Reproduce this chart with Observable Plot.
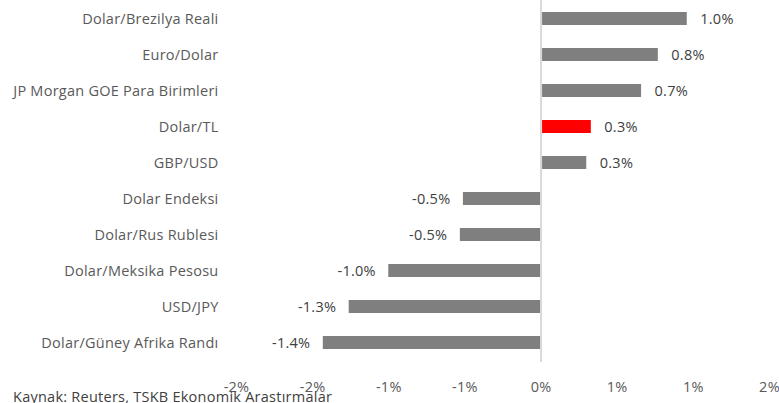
<!DOCTYPE html>
<html>
<head>
<meta charset="utf-8">
<script src="https://cdn.jsdelivr.net/npm/d3@7"></script>
<script src="https://cdn.jsdelivr.net/npm/@observablehq/plot@0.6"></script>
<style>
  html, body { margin: 0; padding: 0; background: #fff; }
  #wrap { position: relative; width: 779px; height: 403px; overflow: hidden; font-family: "Open Sans", sans-serif; }
  #caption { position: absolute; left: 13px; top: 389px; font-size: 14.5px; letter-spacing: 0.25px; line-height: 15px; color: #404040; white-space: nowrap; }
  #chart svg text { letter-spacing: 0.25px; }
</style>
</head>
<body>
<div id="wrap">
  <div id="chart"></div>
  <div id="caption">Kaynak: Reuters, TSKB Ekonomik Arastırmalar</div>
</div>
<script>
const categories = [
  "Dolar/Brezilya Reali",
  "Euro/Dolar",
  "JP Morgan GOE Para Birimleri",
  "Dolar/TL",
  "GBP/USD",
  "Dolar Endeksi",
  "Dolar/Rus Rublesi",
  "Dolar/Meksika Pesosu",
  "USD/JPY",
  "Dolar/Güney Afrika Randı"
];
const values = [0.96, 0.77, 0.66, 0.33, 0.30, -0.51, -0.53, -1.0, -1.26, -1.43];
const highlight = "Dolar/TL";
const xTicks = [-2, -1.5, -1, -0.5, 0, 0.5, 1, 1.5];
const xTickLabels = ["-2%", "-2%", "-1%", "-1%", "0%", "1%", "1%", "2%"];

const data = categories.map((c, i) => ({category: c, value: values[i]}));
const pos = data.filter(d => d.value >= 0);
const neg = data.filter(d => d.value < 0);
const fmt = v => v.toFixed(1) + "%";

const chart = Plot.plot({
  width: 779,
  height: 403,
  marginLeft: 236,
  marginRight: 10,
  marginTop: 0,
  marginBottom: 41,
  insetTop: 11.5,
  insetBottom: 12.5,
  style: {fontFamily: "Open Sans, sans-serif", fontSize: "14.5px", color: "#595959", background: "transparent", overflow: "visible"},
  x: {domain: [-2, 1.5], ticks: xTicks, tickFormat: (d, i) => xTickLabels[i], tickSize: 0, tickPadding: 19, label: null},
  y: {domain: categories, paddingInner: 0.64, paddingOuter: 0, tickSize: 0, tickPadding: 18, label: null},
  marks: [
    Plot.barX(data, {x: "value", y: "category", fill: d => d.category === highlight ? "#ff0000" : "#7f7f7f"}),
    Plot.ruleX([0], {stroke: "#d9d9d9", strokeWidth: 2}),
    Plot.text(pos, {x: "value", y: "category", text: d => fmt(d.value), textAnchor: "start", dx: 13, fill: "#404040"}),
    Plot.text(neg, {x: "value", y: "category", text: d => fmt(d.value), textAnchor: "end", dx: -13, fill: "#404040"})
  ]
});
document.getElementById("chart").appendChild(chart);
</script>
</body>
</html>
